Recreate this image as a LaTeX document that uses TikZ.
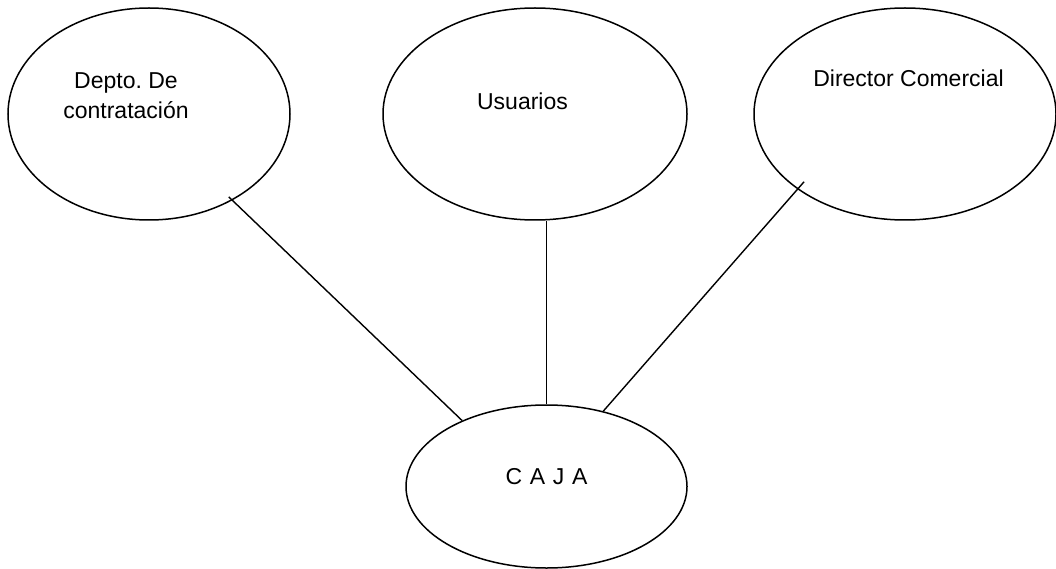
\documentclass[tikz,border=0pt]{standalone}
\usepackage{fontspec}
\setmainfont{Liberation Sans}
\usetikzlibrary{shapes.geometric}
\frenchspacing
\begin{document}
\begin{tikzpicture}[x=1pt,y=-1pt,
  bubble/.style={ellipse,draw=black,line width=1.5pt,inner sep=0pt,fill=none},
  label/.style={font=\fontsize{23}{30}\selectfont,inner sep=0pt,anchor=base,align=center},
  link/.style={draw=black,line width=1.4pt}]
\useasboundingbox (0,0) rectangle (1056,569);
\node[bubble,minimum width=282pt,minimum height=212pt] (dep) at (149,114) {};
\node[bubble,minimum width=304pt,minimum height=212pt] (usu) at (535,114) {};
\node[bubble,minimum width=302pt,minimum height=212pt] (dir) at (905,114) {};
\node[bubble,minimum width=281pt,minimum height=163pt] (caja) at (546.5,486.5) {};
\node[label] (tdep) at (126,118.3) {Depto. De\\contratación};
\node[label] (tusu) at (522.5,110) {Usuarios};
\node[label] (tdir) at (908.5,87) {Director Comercial};
\node[label] (tcaja) at (546.5,484) {C\,\,A\,\,J\,\,A};
\draw[link,shorten <=-5pt] (dep.-46.8) -- (caja.142.3);
\draw[link] (caja.north) -- (caja.north |- usu.south);
\draw[link,shorten <=-10pt] (dir.215.8) -- (caja.53.2);
\end{tikzpicture}
\end{document}
